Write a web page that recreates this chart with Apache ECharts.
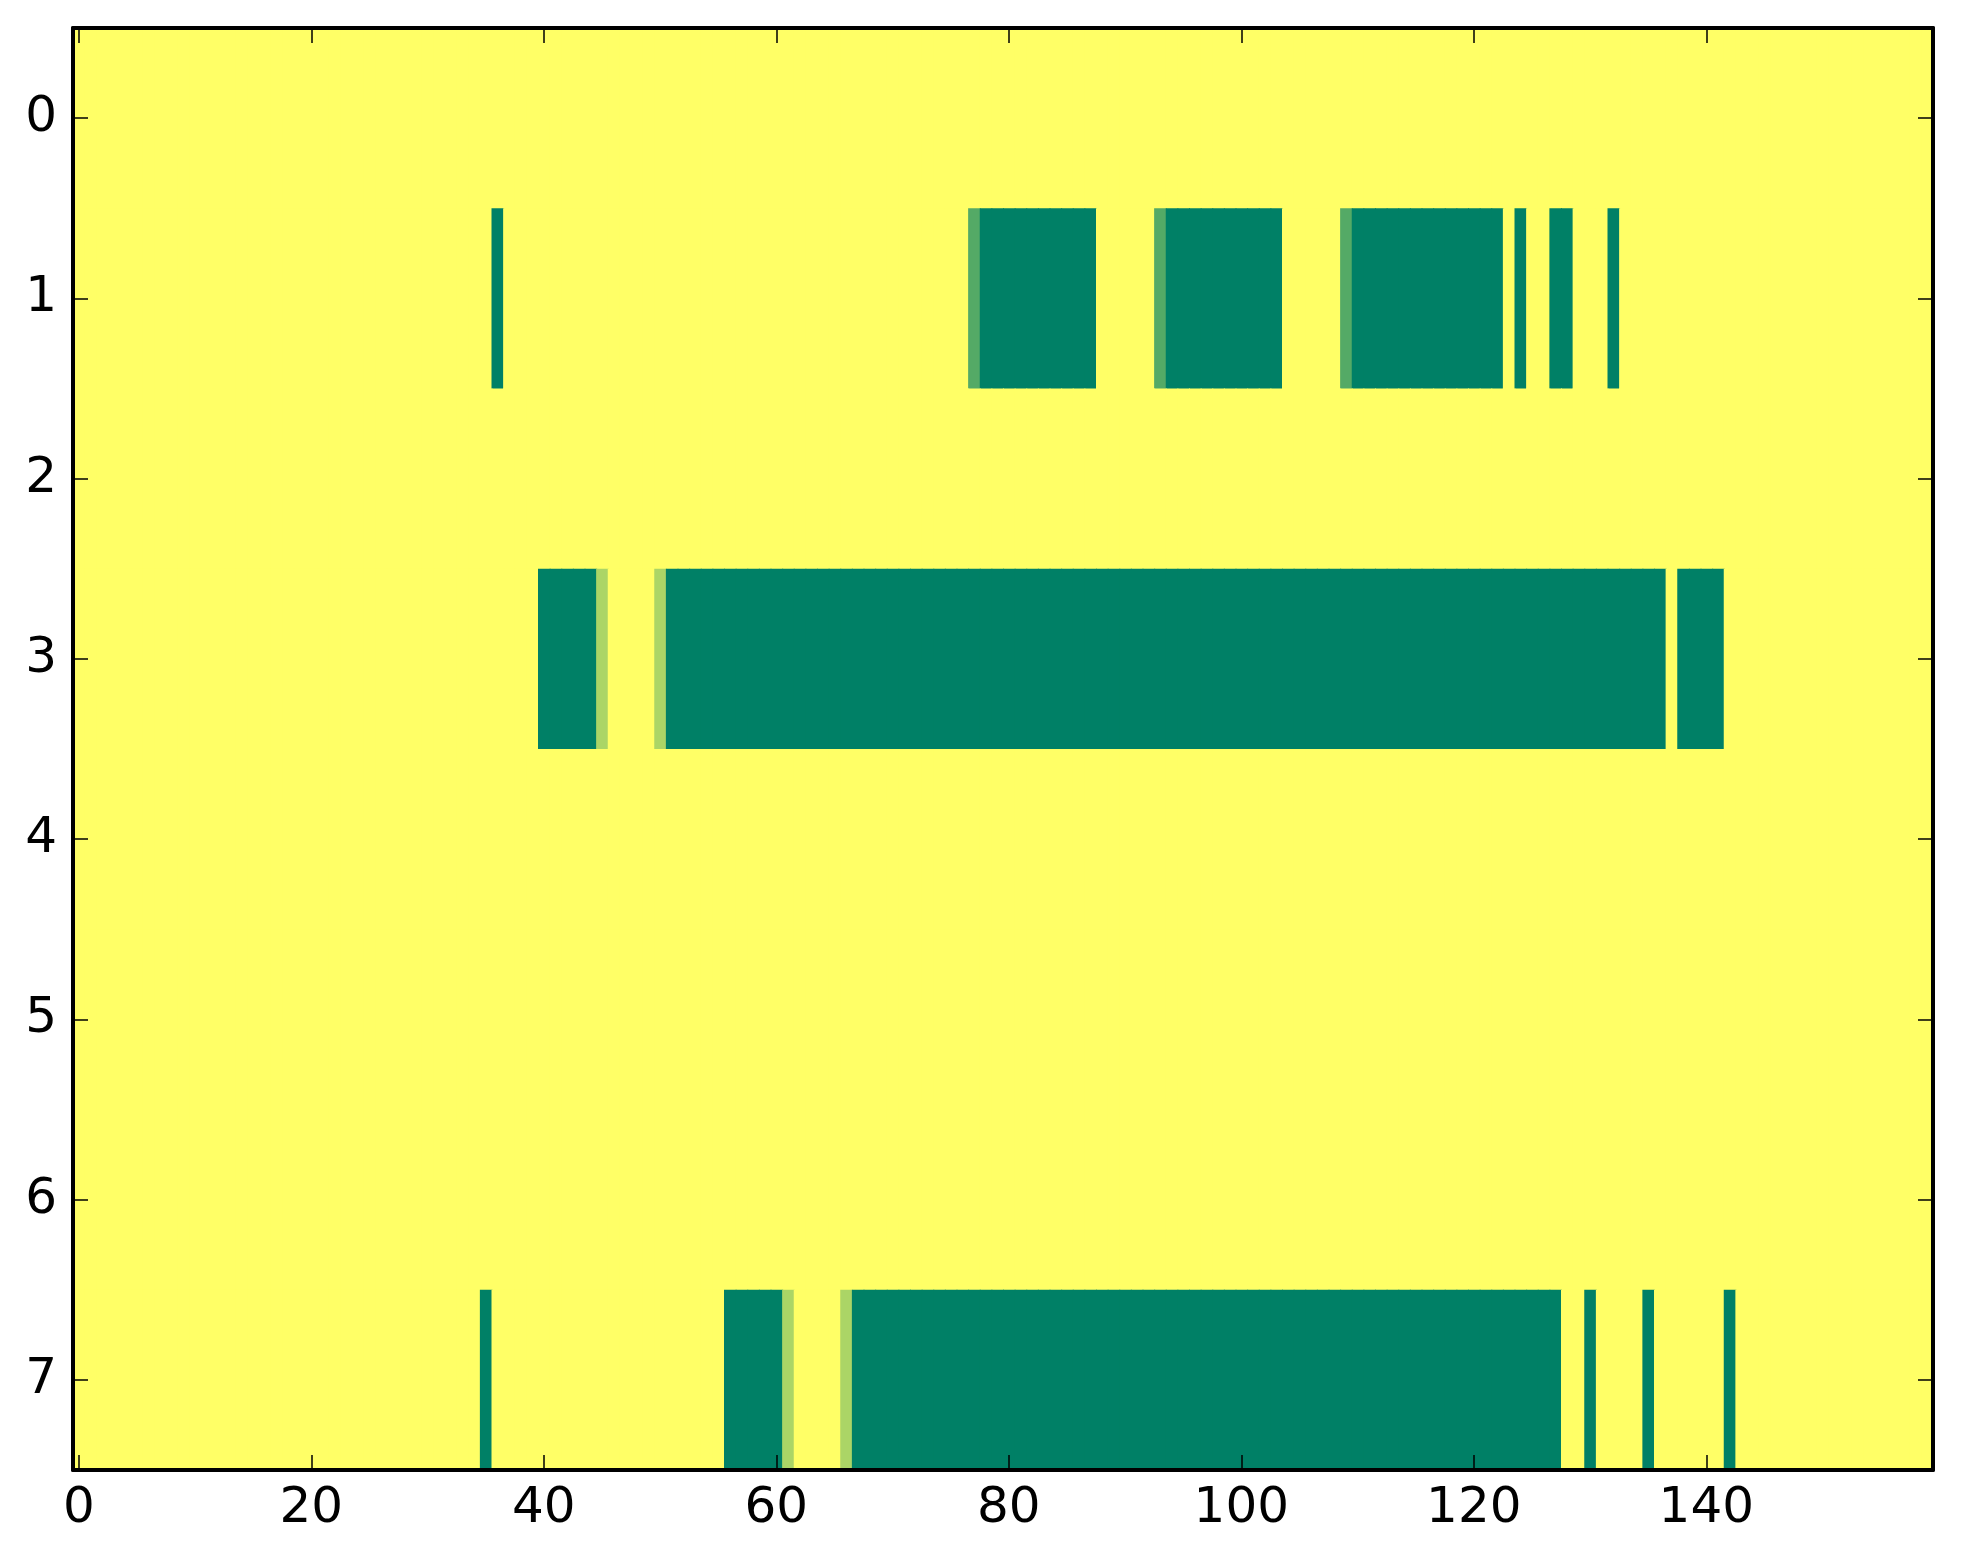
<!DOCTYPE html>
<html><head><meta charset="utf-8">
<script src="https://cdn.jsdelivr.net/npm/echarts@6/dist/echarts.min.js"></script>
<style>html,body{margin:0;padding:0;background:#fff}#c{width:1963px;height:1564px}</style>
</head><body><div id="c"></div>
<script>
// number of image columns (0..159) and rows (0..7)
const nCols = 160;
const rowLabels = ['0','1','2','3','4','5','6','7'];
const xTickLabels = ['0','20','40','60','80','100','120','140'];
// non-zero cells of each row as [firstCol, lastCol, value]; all other cells are 0
const row0 = [];
const row1 = [[36,36,1],[77,77,0.67],[78,87,1],[93,93,0.67],[94,103,1],[109,109,0.67],[110,122,1],[124,124,1],[127,128,1],[132,132,1]];
const row2 = [];
const row3 = [[40,44,1],[45,45,0.33],[50,50,0.33],[51,136,1],[138,141,1]];
const row4 = [];
const row5 = [];
const row6 = [];
const row7 = [[35,35,1],[56,60,1],[61,61,0.33],[66,66,0.33],[67,127,1],[130,130,1],[135,135,1],[142,142,1]];
const rowSegments = [row0,row1,row2,row3,row4,row5,row6,row7];
const colorLow = '#ffff66';
const colorHigh = '#008066';

const xCats = [];
for (let i = 0; i < nCols; i++) xCats.push(String(i));
const cells = [];
rowSegments.forEach((segs, r) => {
  const vals = new Array(nCols).fill(0);
  segs.forEach(([a, b, v]) => { for (let i = a; i <= b; i++) vals[i] = v; });
  vals.forEach((v, c) => cells.push([c, r, v]));
});

const font = 'DejaVu Sans';
const showX = (idx, val) => xTickLabels.includes(String(val !== undefined ? val : xCats[idx]));
const tickStyle = {show: true, inside: true, length: 15, lineStyle: {color: '#000', width: 1.5}};
const lineStyle = {show: true, lineStyle: {color: '#000', width: 4}};

const chart = echarts.init(document.getElementById('c'), null, {renderer: 'canvas'});
chart.setOption({
  animation: false,
  backgroundColor: '#ffffff',
  grid: {left: 73, right: 30, top: 28, bottom: 94, containLabel: false, outerBoundsMode: 'none'},
  visualMap: {type: 'continuous', show: false, min: 0, max: 1, dimension: 2, seriesIndex: 0,
    inRange: {color: [colorLow, colorHigh]}},
  xAxis: [
    {type: 'category', data: xCats, position: 'bottom', z: 10, boundaryGap: true,
      axisLine: lineStyle,
      axisTick: Object.assign({}, tickStyle, {alignWithLabel: true, interval: (i, v) => showX(i, v)}),
      axisLabel: {interval: (i, v) => showX(i, v), color: '#000', fontFamily: font, fontSize: 50, margin: 14},
      splitLine: {show: false}},
    {type: 'category', data: xCats, position: 'top', z: 10, boundaryGap: true,
      axisLine: lineStyle,
      axisTick: Object.assign({}, tickStyle, {alignWithLabel: true, interval: (i, v) => showX(i, v)}),
      axisLabel: {show: false}, splitLine: {show: false}}
  ],
  yAxis: [
    {type: 'category', data: rowLabels, inverse: true, position: 'left', z: 10, boundaryGap: true,
      axisLine: lineStyle,
      axisTick: Object.assign({}, tickStyle, {alignWithLabel: true, interval: 0}),
      axisLabel: {interval: 0, color: '#000', fontFamily: font, fontSize: 50, margin: 16},
      splitLine: {show: false}},
    {type: 'category', data: rowLabels, inverse: true, position: 'right', z: 10, boundaryGap: true,
      axisLine: lineStyle,
      axisTick: Object.assign({}, tickStyle, {alignWithLabel: true, interval: 0}),
      axisLabel: {show: false}, splitLine: {show: false}}
  ],
  series: [{
    type: 'custom', xAxisIndex: 0, yAxisIndex: 0, data: cells, silent: true, clip: true,
    encode: {x: 0, y: 1},
    renderItem: (params, api) => {
      const c = api.coord([api.value(0), api.value(1)]);
      const s = api.size([1, 1]);
      const col = api.visual('color');
      // each cell overlaps the next one by 1px so that no antialiasing seams show
      return {type: 'rect',
        shape: {x: c[0] - s[0] / 2, y: c[1] - s[1] / 2, width: s[0] + 1, height: s[1] + 1},
        style: {fill: col}};
    }
  }]
});
</script>
</body></html>
